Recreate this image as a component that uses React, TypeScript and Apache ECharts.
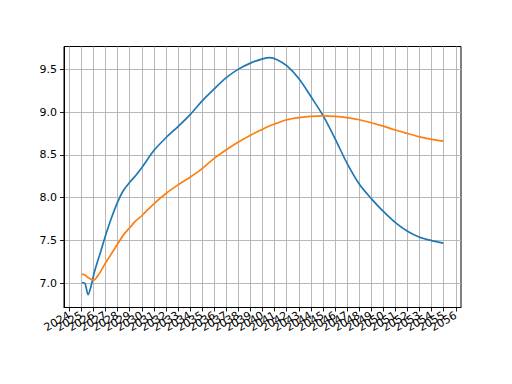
import React, { useEffect, useRef } from "react";
import * as echarts from "echarts";

// decimal years (sample positions)
const years = [
  2025.05, 2025.3, 2025.55, 2025.8, 2026.05, 2026.3, 2026.55, 2027.0, 2027.5,
  2028.0, 2028.5, 2029.0, 2029.5, 2030.0, 2031.0, 2032.0, 2033.0, 2034.0,
  2035.0, 2036.0, 2037.0, 2038.0, 2039.0, 2040.0, 2040.6, 2041.2, 2042.0,
  2043.0, 2044.0, 2045.0, 2046.0, 2047.0, 2048.0, 2049.0, 2050.0, 2051.0,
  2052.0, 2053.0, 2054.0, 2054.96,
];

const blueValues = [
  7.01, 7.0, 6.87, 6.97, 7.12, 7.24, 7.35, 7.56, 7.77,
  7.95, 8.09, 8.18, 8.26, 8.35, 8.55, 8.7, 8.83, 8.97,
  9.13, 9.27, 9.4, 9.5, 9.57, 9.62, 9.635, 9.61, 9.54,
  9.39, 9.18, 8.96, 8.69, 8.4, 8.16, 7.99, 7.84, 7.71,
  7.61, 7.54, 7.5, 7.47,
];

const orangeValues = [
  7.11, 7.1, 7.07, 7.05, 7.04, 7.08, 7.13, 7.24, 7.35,
  7.46, 7.57, 7.65, 7.73, 7.79, 7.93, 8.05, 8.15, 8.24,
  8.34, 8.46, 8.56, 8.65, 8.73, 8.8, 8.84, 8.87, 8.91,
  8.935, 8.95, 8.955, 8.95, 8.935, 8.91, 8.875, 8.835, 8.79,
  8.75, 8.71, 8.68, 8.66,
];

const xTickYears = Array.from({ length: 33 }, (_, i) => 2024 + i);
const yTickValues = [7.0, 7.5, 8.0, 8.5, 9.0, 9.5];

const FONT = "DejaVu Sans";
const X_MIN = 2023.56;
const X_MAX = 2056.43;

export default function App() {
  const ref = useRef<HTMLDivElement>(null);
  useEffect(() => {
    const chart = echarts.init(ref.current!, null, { renderer: "svg" });
    const blueData = years.map((x, i) => [x, blueValues[i]]);
    const orangeData = years.map((x, i) => [x, orangeValues[i]]);

    const labelStyle = {
      show: true,
      interval: 0,
      rotate: 30,
      margin: 7,
      color: "#000",
      fontSize: 11,
      fontFamily: FONT,
      showMinLabel: true,
      showMaxLabel: true,
      hideOverlap: false,
      formatter: (v: number) => String(Math.round(v)),
    };
    // labels split over three stacked x axes so none are dropped as overlapping
    const labelGroups = [0, 1, 2].map((r) => xTickYears.filter((_, i) => i % 3 === r));

    const xAxes = labelGroups.map((group, k) => ({
      type: "value",
      gridIndex: 0,
      position: "bottom",
      offset: 0,
      min: X_MIN,
      max: X_MAX,
      axisLine: { show: k === 0, onZero: false, lineStyle: { color: "#000", width: 1 } },
      axisTick: {
        show: k === 0,
        length: 4,
        lineStyle: { color: "#000", width: 0.9 },
        customValues: k === 0 ? xTickYears : group,
      },
      axisLabel: { ...labelStyle, customValues: group },
      splitLine: { show: k === 0, lineStyle: { color: "#b0b0b0", width: 0.9 } },
    }));

    chart.setOption({
      animation: false,
      backgroundColor: "#ffffff",
      grid: {
        left: 64,
        top: 46.5,
        width: 397,
        height: 261,
        show: true,
        borderColor: "#000000",
        borderWidth: 1,
        outerBoundsMode: "none",
        containLabel: false,
      },
      xAxis: xAxes,
      yAxis: {
        type: "value",
        min: 6.72,
        max: 9.764,
        axisLine: { show: true, onZero: false, lineStyle: { color: "#000", width: 1 } },
        axisTick: {
          show: true,
          length: 4,
          lineStyle: { color: "#000", width: 0.9 },
          customValues: yTickValues,
        },
        axisLabel: {
          show: true,
          margin: 7,
          color: "#000",
          fontSize: 11,
          fontFamily: FONT,
          customValues: yTickValues,
          formatter: (v: number) => v.toFixed(1),
        },
        splitLine: { show: true, lineStyle: { color: "#b0b0b0", width: 0.9 } },
      },
      series: [
        {
          type: "line",
          xAxisIndex: 0,
          data: blueData,
          showSymbol: false,
          smooth: 0.3,
          lineStyle: { color: "#1f77b4", width: 1.7 },
          itemStyle: { color: "#1f77b4" },
          z: 3,
        },
        {
          type: "line",
          xAxisIndex: 0,
          data: orangeData,
          showSymbol: false,
          smooth: 0.3,
          lineStyle: { color: "#ff7f0e", width: 1.7 },
          itemStyle: { color: "#ff7f0e" },
          z: 4,
        },
      ],
    });
    return () => chart.dispose();
  }, []);
  return (
    <div
      ref={ref}
      style={{ position: "fixed", left: 0, top: 0, width: 512, height: 384, background: "#fff" }}
    />
  );
}
